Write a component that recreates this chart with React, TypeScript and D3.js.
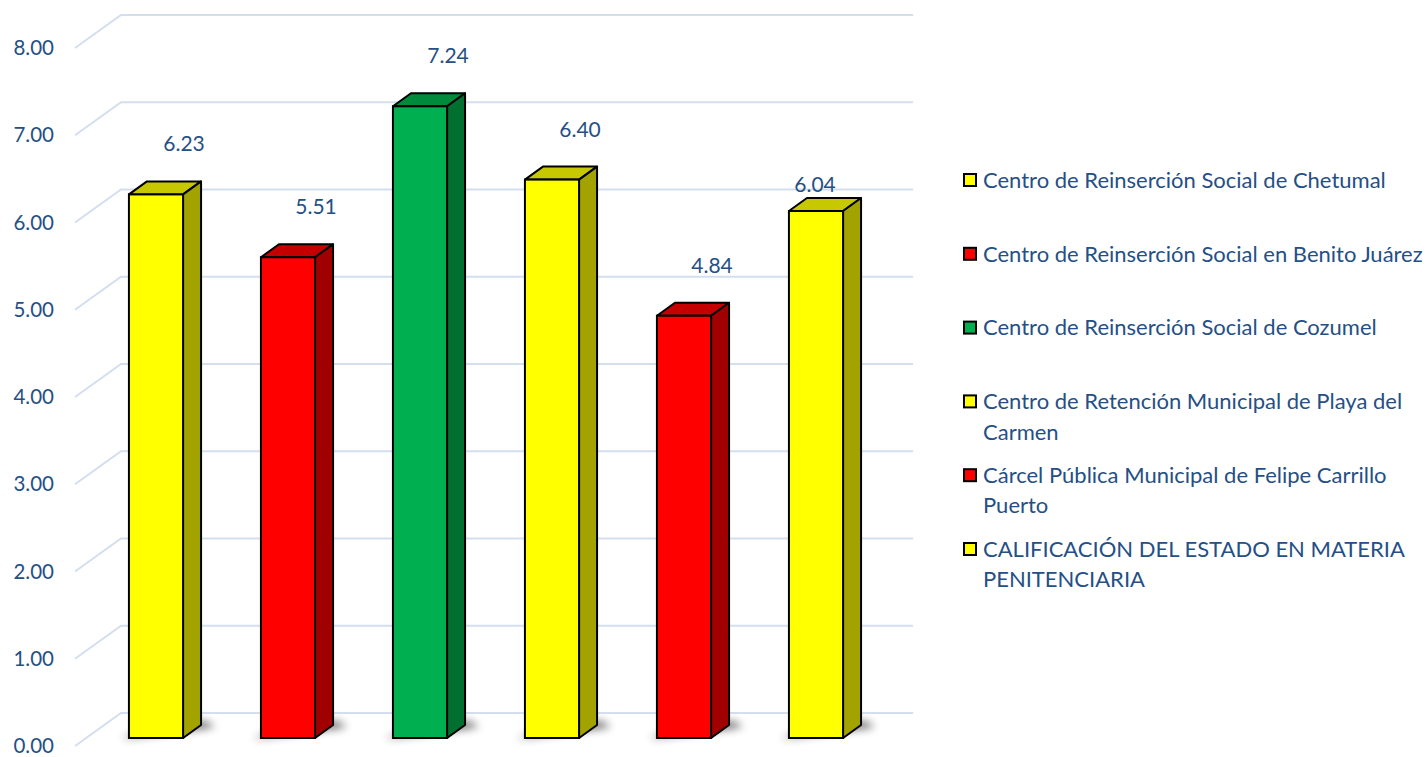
import * as d3 from 'd3';

// chart data
const categories = [
  'Centro de Reinserción Social de Chetumal',
  'Centro de Reinserción Social en Benito Juárez',
  'Centro de Reinserción Social de Cozumel',
  'Centro de Retención Municipal de Playa del\nCarmen',
  'Cárcel Pública Municipal de Felipe Carrillo\nPuerto',
  'CALIFICACIÓN DEL ESTADO EN MATERIA\nPENITENCIARIA',
];
const values = [6.23, 5.51, 7.24, 6.4, 4.84, 6.04];
const colorKeys = ['yellow', 'red', 'green', 'yellow', 'red', 'yellow'];
const yTicks = [0, 1, 2, 3, 4, 5, 6, 7, 8];

const palette: Record<string, { front: string; top: string; side: string }> = {
  yellow: { front: '#ffff00', top: '#c8c800', side: '#a3a300' },
  red: { front: '#ff0000', top: '#c40000', side: '#a00000' },
  green: { front: '#00b050', top: '#008a3c', side: '#006f30' },
};

const TEXT = '#254f85';
const FONT = 'Lato, "Open Sans", sans-serif';
const GRID = '#d3deef';

export default function App() {
  const width = 1428;
  const height = 757;

  const y = d3.scaleLinear().domain([0, 8]).range([738, 40]);
  const x = d3.scaleBand<number>()
    .domain(d3.range(values.length))
    .range([90, 882])
    .paddingInner(0.59)
    .paddingOuter(0.295);

  const barDx = 18;
  const barDy = -13;
  const wallX0 = 75;
  const wallX1 = 121;
  const gridRight = 913;

  return (
    <svg width={width} height={height} style={{ position: 'absolute', left: 0, top: 0 }}>
      <defs>
        <filter id="shadow" x="-50%" y="-200%" width="200%" height="500%">
          <feGaussianBlur stdDeviation="4" />
        </filter>
      </defs>

      {/* gridlines with left wall diagonal */}
      {yTicks.map((t) => {
        const yb = y(t) - 25;
        const yf = y(t) + 8;
        return (
          <g key={t}>
            <path
              d={`M${wallX0},${yf}L${wallX1},${yb}L${gridRight},${yb}`}
              fill="none"
              stroke={GRID}
              strokeWidth={2}
            />
            <text
              x={54}
              y={yf}
              dy="0.35em"
              textAnchor="end"
              fill={TEXT}
              fontFamily={FONT}
              fontSize={20.5}
            >
              {t.toFixed(2)}
            </text>
          </g>
        );
      })}

      {/* bars */}
      {values.map((v, i) => {
        const x0 = x(i)!;
        const x1 = x0 + x.bandwidth();
        const yt = y(v);
        const yb = y(0);
        const c = palette[colorKeys[i]];
        return (
          <g key={i}>
            <polygon
              points={`${x0 - 8},${yb + 1} ${x1 + barDx + 14},${yb + barDy + 2} ${x1 + barDx + 4},${yb + barDy - 4} ${x0 + 4},${yb - 4}`}
              fill="#000"
              opacity={0.6}
              filter="url(#shadow)"
            />
            <polygon
              points={`${x0},${yt} ${x0 + barDx},${yt + barDy} ${x1 + barDx},${yt + barDy} ${x1},${yt}`}
              fill={c.top}
              stroke="#000"
              strokeWidth={2}
              strokeLinejoin="round"
            />
            <polygon
              points={`${x1},${yt} ${x1 + barDx},${yt + barDy} ${x1 + barDx},${yb + barDy} ${x1},${yb}`}
              fill={c.side}
              stroke="#000"
              strokeWidth={2}
              strokeLinejoin="round"
            />
            <rect
              x={x0}
              y={yt}
              width={x1 - x0}
              height={yb - yt}
              fill={c.front}
              stroke="#000"
              strokeWidth={2}
            />
          </g>
        );
      })}

      {/* value labels */}
      {values.map((v, i) => {
        const cx = x(i)! + x.bandwidth() / 2;
        const topBack = y(v) + barDy;
        const last = i === values.length - 1;
        return (
          <text
            key={i}
            x={last ? cx - 1 : cx + 28}
            y={last ? topBack - 6 : topBack - 30}
            textAnchor="middle"
            fill={TEXT}
            fontFamily={FONT}
            fontSize={21}
          >
            {v.toFixed(2)}
          </text>
        );
      })}

      {/* legend */}
      {categories.map((name, i) => {
        const cy = 180 + i * 73.8;
        const lines = name.split('\n');
        const c = palette[colorKeys[i]];
        return (
          <g key={i}>
            <rect x={964} y={cy - 6} width={12} height={12} fill={c.front} stroke="#000" strokeWidth={2} />
            {lines.map((ln, j) => (
              <text
                key={j}
                x={983}
                y={cy + j * 30.5}
                dy="0.35em"
                fill={TEXT}
                fontFamily={FONT}
                fontSize={22}
              >
                {ln}
              </text>
            ))}
          </g>
        );
      })}
    </svg>
  );
}
